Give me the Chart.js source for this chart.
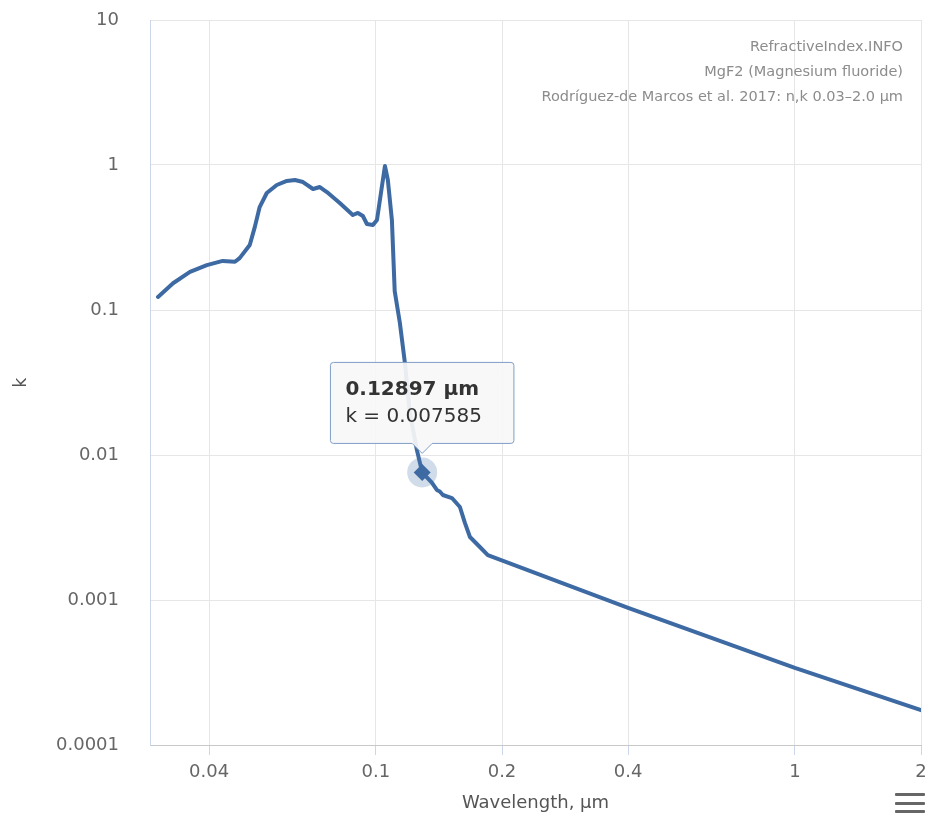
<!DOCTYPE html>
<html>
<head>
<meta charset="utf-8">
<script src="https://cdn.jsdelivr.net/npm/chart.js@4.4.1/dist/chart.umd.min.js"></script>
<style>
  html, body { margin: 0; padding: 0; background: #fff; }
  #wrap { position: relative; width: 931px; height: 814px; }
  #credits {
    position: absolute; right: 28px; top: 34px;
    font: 14.5px "Comic Sans MS", "DejaVu Sans", sans-serif;
    color: #8c8c8c; text-align: right; line-height: 25px;
  }
  #menu { position: absolute; left: 895px; top: 793px; width: 30px; }
  #menu div { height: 3px; background: #666; margin-bottom: 5.5px; border-radius: 1px; }
</style>
</head>
<body>
<div id="wrap">
  <canvas id="chart" width="931" height="814"></canvas>
  <div id="credits">
    RefractiveIndex.INFO<br>
    MgF2 (Magnesium fluoride)<br>
    Rodríguez-de Marcos et al. 2017: n,k 0.03–2.0 µm
  </div>
  <div id="menu"><div></div><div></div><div></div></div>
</div>
<script>
// wavelength (µm) and extinction coefficient k
const wl = [0.0302, 0.0328, 0.0360, 0.0395, 0.0431, 0.0461, 0.0473, 0.0500, 0.0514, 0.0528,
            0.0549, 0.0580, 0.0613, 0.0641, 0.0670, 0.0708, 0.0735, 0.0764, 0.0820, 0.0881,
            0.0906, 0.0931, 0.0952, 0.0984, 0.1006, 0.1051, 0.1068, 0.1092, 0.1109, 0.1141,
            0.1173, 0.1205, 0.1253, 0.12897, 0.1360, 0.1398, 0.1421, 0.1445, 0.1519, 0.1587,
            0.1631, 0.1677, 0.1771, 0.1850, 0.4, 1.0, 2.0];
const k  = [0.123, 0.153, 0.183, 0.204, 0.218, 0.215, 0.228, 0.281, 0.373, 0.513,
            0.641, 0.728, 0.776, 0.788, 0.763, 0.683, 0.705, 0.651, 0.547, 0.452,
            0.467, 0.445, 0.392, 0.386, 0.418, 0.985, 0.788, 0.418, 0.135, 0.0813,
            0.0431, 0.0195, 0.0108, 0.007585, 0.00646, 0.00574, 0.0056, 0.0053, 0.00505, 0.00438,
            0.0034, 0.00272, 0.00232, 0.00204, 0.000883, 0.00034, 0.000174];

const xTicks = [0.04, 0.1, 0.2, 0.4, 1, 2];
const yTicks = [0.0001, 0.001, 0.01, 0.1, 1, 10];

const hoverWl = 0.12897;
const hi = wl.indexOf(hoverWl);

const LINE = '#3e6aa3';
const GRID = '#e6e6e6';
const FONT = 'DejaVu Sans';

const points = wl.map((x, i) => ({ x, y: k[i] }));
const hoverPt = [{ x: wl[hi], y: k[hi] }];

// fixed axis boxes, no extra label overflow padding
function fixBox(size) {
  return s => {
    if (s.isHorizontal()) s.height = size; else s.width = size;
    s.paddingTop = s.paddingBottom = s.paddingLeft = s.paddingRight = 0;
  };
}

const chart = new Chart(document.getElementById('chart'), {
  type: 'scatter',
  data: {
    datasets: [
      { // diamond marker
        data: hoverPt, order: 0,
        pointStyle: 'rectRot', pointRadius: 8.5,
        backgroundColor: LINE, borderColor: LINE, borderWidth: 0,
      },
      { // halo
        data: hoverPt, order: 1,
        pointRadius: 15, backgroundColor: 'rgba(69,114,167,0.25)', borderWidth: 0,
      },
      { // k curve
        data: points, order: 2,
        showLine: true, borderColor: LINE, borderWidth: 4,
        borderJoinStyle: 'round', borderCapStyle: 'round',
        pointRadius: 0, tension: 0,
      },
    ],
  },
  options: {
    responsive: false,
    animation: false,
    events: [],
    layout: { autoPadding: false, padding: { top: 20, right: 10, left: 0, bottom: 0 } },
    plugins: {
      legend: { display: false },
      tooltip: {
        enabled: true,
        xAlign: 'center', yAlign: 'bottom',
        backgroundColor: 'rgba(247,247,247,0.92)',
        borderColor: '#7f9fc6', borderWidth: 1,
        cornerRadius: 3,
        caretSize: 10, caretPadding: 19,
        padding: { top: 15, bottom: 15, left: 15, right: 32 },
        displayColors: false,
        titleColor: '#333', bodyColor: '#333',
        titleFont: { family: FONT, size: 20, weight: 'bold' },
        bodyFont: { family: FONT, size: 20 },
        titleMarginBottom: 3,
        callbacks: {
          title: items => items[0].raw.x + ' µm',
          label: item => 'k = ' + item.raw.y,
        },
      },
    },
    scales: {
      x: {
        type: 'logarithmic', position: 'bottom',
        min: 0.0289, max: 2,
        afterBuildTicks: s => { s.ticks = xTicks.map(v => ({ value: v })); },
        afterFit: fixBox(69),
        ticks: {
          callback: v => String(v),
          color: '#666', font: { family: FONT, size: 18 },
          padding: 7, maxRotation: 0, autoSkip: false,
        },
        grid: { color: GRID, tickColor: '#ccd6eb', tickLength: 10, drawTicks: true },
        border: { color: '#c8c8c8' },
        title: {
          display: true, text: 'Wavelength, µm',
          color: '#555', font: { family: FONT, size: 18 },
          padding: { top: 0, bottom: 0 },
        },
      },
      y: {
        type: 'logarithmic', position: 'left',
        min: 0.0001, max: 10,
        afterBuildTicks: s => { s.ticks = yTicks.map(v => ({ value: v })); },
        afterFit: fixBox(150),
        ticks: {
          callback: v => String(v),
          color: '#666', font: { family: FONT, size: 18 },
          padding: 31, autoSkip: false,
        },
        grid: { color: GRID, drawTicks: false },
        border: { color: '#ccd6eb' },
        title: {
          display: true, text: 'k',
          color: '#555', font: { family: FONT, size: 17 },
          padding: { top: 11, bottom: 0 },
        },
      },
    },
  },
});

const el = chart.getDatasetMeta(0).data[0];
chart.tooltip.setActiveElements([{ datasetIndex: 0, index: 0 }], { x: el.x, y: el.y });
chart.update();
</script>
</body>
</html>
